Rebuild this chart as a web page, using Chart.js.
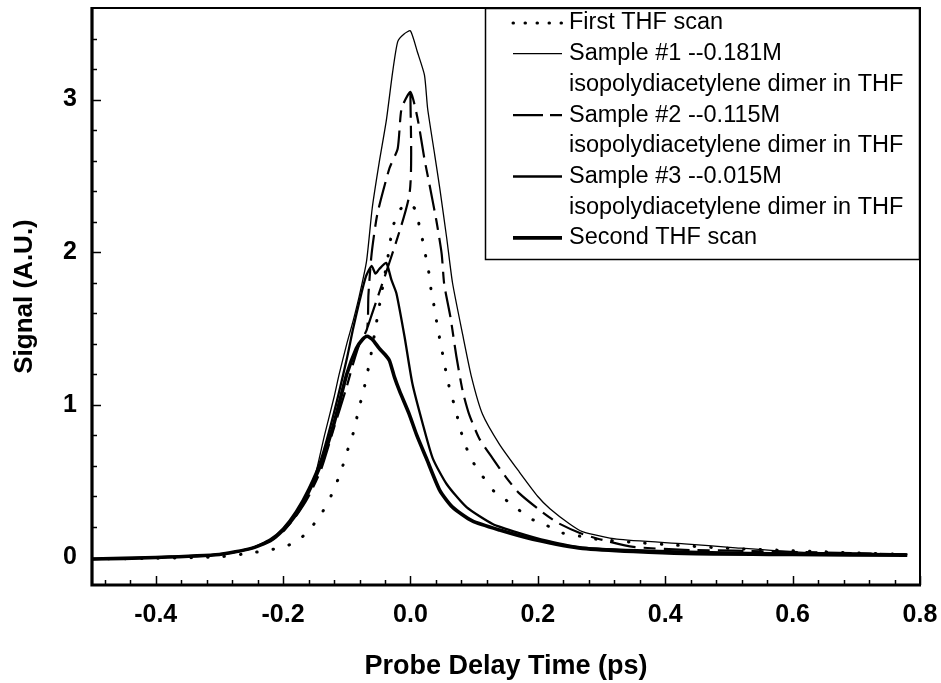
<!DOCTYPE html>
<html><head><meta charset="utf-8">
<script src="https://cdn.jsdelivr.net/npm/chart.js@4/dist/chart.umd.min.js"></script>
<style>html,body{margin:0;padding:0;background:#fff;}#wrap{width:941px;height:683px;}</style>
</head><body><div id="wrap"><canvas id="c" width="941" height="683"></canvas></div>
<script>
const xTicks = [-0.4, -0.2, 0.0, 0.2, 0.4, 0.6, 0.8];
const yTicks = [0, 1, 2, 3];
const xTitle = 'Probe Delay Time (ps)';
const yTitle = 'Signal (A.U.)';
const seriesNames = ['First THF scan', 'Sample #1 --0.181M', 'Sample #2 --0.115M', 'Sample #3 --0.015M', 'Second THF scan'];
const seriesSub = ['', 'isopolydiacetylene dimer in THF', 'isopolydiacetylene dimer in THF', 'isopolydiacetylene dimer in THF', ''];

const firstX = [-0.5,-0.4,-0.3,-0.25,-0.209,-0.18,-0.157,-0.138,-0.124,-0.113,-0.104,-0.096,-0.088,-0.082,-0.075,-0.069,-0.062,-0.055,-0.045,-0.035,-0.028,-0.018,-0.005,0.008,0.014,0.02,0.025,0.03,0.033,0.038,0.042,0.047,0.052,0.057,0.063,0.071,0.077,0.085,0.096,0.112,0.132,0.159,0.186,0.214,0.239,0.266,0.292,0.35,0.4,0.5,0.6,0.7,0.78];
const firstY = [-0.01,-0.005,0.005,0.03,0.06,0.1,0.19,0.3,0.41,0.52,0.63,0.74,0.84,0.96,1.07,1.18,1.33,1.5,1.74,1.98,2.16,2.27,2.32,2.28,2.17,2.06,1.95,1.84,1.73,1.63,1.52,1.41,1.3,1.19,1.08,0.97,0.86,0.75,0.64,0.54,0.43,0.35,0.26,0.21,0.16,0.14,0.12,0.1,0.085,0.06,0.045,0.03,0.02];

const s1X = [-0.5,-0.4,-0.3,-0.25,-0.22,-0.2,-0.18,-0.16,-0.15,-0.135,-0.12,-0.112,-0.1,-0.09,-0.08,-0.069,-0.06,-0.049,-0.038,-0.028,-0.02,-0.01,0,0.011,0.022,0.027,0.038,0.046,0.057,0.066,0.082,0.096,0.113,0.14,0.171,0.2,0.219,0.25,0.27,0.324,0.43,0.506,0.61,0.7,0.78];
const s1Y = [-0.01,0,0.02,0.06,0.11,0.18,0.29,0.43,0.53,0.8,1.05,1.2,1.4,1.55,1.72,1.94,2.29,2.59,2.86,3.18,3.38,3.43,3.45,3.31,3.16,2.94,2.64,2.42,2.09,1.8,1.46,1.18,0.94,0.74,0.56,0.4,0.32,0.22,0.17,0.12,0.09,0.065,0.035,0.03,0.02];

const s2X = [-0.5,-0.4,-0.3,-0.25,-0.22,-0.2,-0.18,-0.16,-0.14,-0.12,-0.1,-0.09,-0.08,-0.068,-0.066,-0.061,-0.052,-0.033,-0.02,-0.014,0,0.011,0.022,0.03,0.041,0.049,0.053,0.063,0.072,0.082,0.092,0.108,0.129,0.151,0.171,0.203,0.23,0.266,0.297,0.35,0.43,0.506,0.62,0.78,0,0,-0.002,-0.068];
const s2Y = [-0.01,0,0.02,0.06,0.11,0.17,0.27,0.4,0.58,0.85,1.12,1.27,1.4,1.5,1.72,1.99,2.25,2.55,2.68,2.94,3.05,2.88,2.61,2.44,2.2,1.99,1.79,1.57,1.32,1.09,0.94,0.78,0.65,0.52,0.42,0.31,0.23,0.16,0.12,0.07,0.05,0.045,0.035,0.02,null,3.05,2.37,1.5];

const s3X = [-0.5,-0.4,-0.3,-0.25,-0.22,-0.2,-0.18,-0.16,-0.14,-0.12,-0.1,-0.09,-0.08,-0.07,-0.061,-0.055,-0.049,-0.038,-0.03,-0.022,-0.009,0.003,0.019,0.035,0.057,0.088,0.129,0.171,0.214,0.27,0.376,0.53,0.78];
const s3Y = [-0.01,0,0.02,0.06,0.12,0.19,0.3,0.45,0.65,0.95,1.3,1.5,1.68,1.84,1.91,1.86,1.89,1.93,1.82,1.73,1.44,1.14,0.88,0.65,0.48,0.33,0.22,0.16,0.11,0.065,0.045,0.03,0.02];

const secX = [-0.5,-0.4,-0.3,-0.25,-0.22,-0.2,-0.18,-0.16,-0.14,-0.12,-0.1,-0.085,-0.075,-0.068,-0.06,-0.049,-0.04,-0.033,-0.025,-0.017,-0.002,0.01,0.025,0.046,0.066,0.097,0.14,0.192,0.27,0.43,0.6,0.78];
const secY = [-0.01,0,0.02,0.06,0.11,0.18,0.28,0.43,0.62,0.88,1.2,1.37,1.43,1.45,1.43,1.37,1.33,1.29,1.18,1.09,0.94,0.8,0.65,0.44,0.33,0.24,0.18,0.12,0.06,0.026,0.02,0.015];

function pts(xs, ys) { return xs.map((x, i) => ({ x: x, y: ys[i] })); }

const FONT = "'Liberation Sans', Arial, Helvetica, sans-serif";
const styles = [
  { borderWidth: 3, borderDash: [0.5, 16], borderCapStyle: 'round', legendDash: [0.5, 11.5] },
  { borderWidth: 1.3, borderDash: [], legendDash: [] },
  { borderWidth: 2.2, borderDash: [26, 8, 12, 8], legendDash: [30, 7, 12, 20] },
  { borderWidth: 2.3, borderDash: [], legendDash: [] },
  { borderWidth: 3.6, borderDash: [], legendDash: [] }
];
const allData = [pts(firstX, firstY), pts(s1X, s1Y), pts(s2X, s2Y), pts(s3X, s3Y), pts(secX, secY)];

const datasets = allData.map((d, i) => ({
  label: seriesNames[i], data: d, borderColor: '#000', backgroundColor: '#000',
  pointRadius: 0, fill: false, tension: 0.2, spanGaps: false,
  borderJoinStyle: 'round', borderCapStyle: styles[i].borderCapStyle || 'butt',
  borderWidth: styles[i].borderWidth, borderDash: styles[i].borderDash
}));

const framePlugin = {
  id: 'frame',
  afterDraw(chart) {
    const ctx = chart.ctx, a = chart.chartArea, xs = chart.scales.x, ys = chart.scales.y;
    ctx.save();
    ctx.strokeStyle = '#000';
    ctx.lineCap = 'butt';
    ctx.setLineDash([]);
    ctx.lineWidth = 1.5;
    for (let k = -12; k <= 20; k++) {
      const v = k * 0.04;
      const px = Math.round(xs.getPixelForValue(v)) + 0.5;
      const len = (k % 5 === 0) ? 9 : 5;
      ctx.beginPath(); ctx.moveTo(px, a.bottom); ctx.lineTo(px, a.bottom - len); ctx.stroke();
    }
    for (let k = 0; k <= 17; k++) {
      const v = k * 0.2;
      const py = Math.round(ys.getPixelForValue(v)) + 0.5;
      const len = (k % 5 === 0) ? 9 : 5;
      ctx.beginPath(); ctx.moveTo(a.left, py); ctx.lineTo(a.left + len, py); ctx.stroke();
    }
    ctx.lineWidth = 2;
    ctx.beginPath(); ctx.moveTo(a.left, a.top); ctx.lineTo(a.right, a.top); ctx.lineTo(a.right, a.bottom); ctx.stroke();
    ctx.lineWidth = 3.2;
    ctx.beginPath(); ctx.moveTo(a.left, a.top - 1); ctx.lineTo(a.left, a.bottom); ctx.lineTo(a.right + 1, a.bottom); ctx.stroke();

    // legend box
    const lx = 485, ly = a.top, lw = a.right - 485, lh = 252;
    ctx.fillStyle = '#fff';
    ctx.fillRect(lx, ly, lw, lh);
    ctx.lineWidth = 1.5;
    ctx.strokeRect(lx + 0.5, ly + 0.5, lw - 1, lh - 1);
    const rowH = 30.7;
    let row = 0;
    ctx.font = '23.5px ' + FONT;
    ctx.fillStyle = '#000';
    ctx.textBaseline = 'middle';
    ctx.textAlign = 'left';
    for (let i = 0; i < seriesNames.length; i++) {
      const yy = ly + 15 + row * rowH;
      ctx.save();
      ctx.lineWidth = styles[i].borderWidth;
      ctx.setLineDash(styles[i].legendDash);
      ctx.lineCap = styles[i].borderCapStyle || 'butt';
      ctx.beginPath(); ctx.moveTo(513, yy); ctx.lineTo(562, yy); ctx.stroke();
      ctx.restore();
      ctx.fillText(seriesNames[i], 569, yy);
      row++;
      if (seriesSub[i]) { ctx.fillText(seriesSub[i], 569, ly + 15 + row * rowH); row++; }
    }
    ctx.restore();
  }
};

new Chart(document.getElementById('c'), {
  type: 'line',
  data: { datasets: datasets },
  plugins: [framePlugin],
  options: {
    responsive: false, animation: false, devicePixelRatio: 1,
    layout: { padding: { left: 0, right: 21, top: 8, bottom: 0 } },
    plugins: { legend: { display: false }, tooltip: { enabled: false } },
    elements: { point: { radius: 0 } },
    scales: {
      x: {
        type: 'linear', min: -0.5, max: 0.8,
        afterBuildTicks: s => { s.ticks = xTicks.map(v => ({ value: v })); },
        afterFit: s => { s.height = 98; s.paddingLeft = 0; s.paddingRight = 0; },
        grid: { display: false, drawTicks: false },
        border: { display: false },
        ticks: { padding: 15, color: '#000', font: { family: FONT, size: 25, weight: 'bold' }, maxRotation: 0, autoSkip: false, callback: v => Number(v).toFixed(1) },
        title: { display: true, text: xTitle, color: '#000', font: { family: FONT, size: 27, weight: 'bold' }, padding: { top: 2, bottom: 0 } }
      },
      y: {
        type: 'linear', min: -0.18, max: 3.6,
        afterBuildTicks: s => { s.ticks = yTicks.map(v => ({ value: v })); },
        afterFit: s => { s.width = 92; s.paddingTop = 0; s.paddingBottom = 0; },
        grid: { display: false, drawTicks: false },
        border: { display: false },
        ticks: { padding: 15, color: '#000', font: { family: FONT, size: 25, weight: 'bold' }, callback: v => String(Math.round(v)) },
        title: { display: true, text: yTitle, color: '#000', font: { family: FONT, size: 26, weight: 'bold' }, padding: { top: 9, bottom: 0 } }
      }
    }
  }
});
</script>
</body></html>
